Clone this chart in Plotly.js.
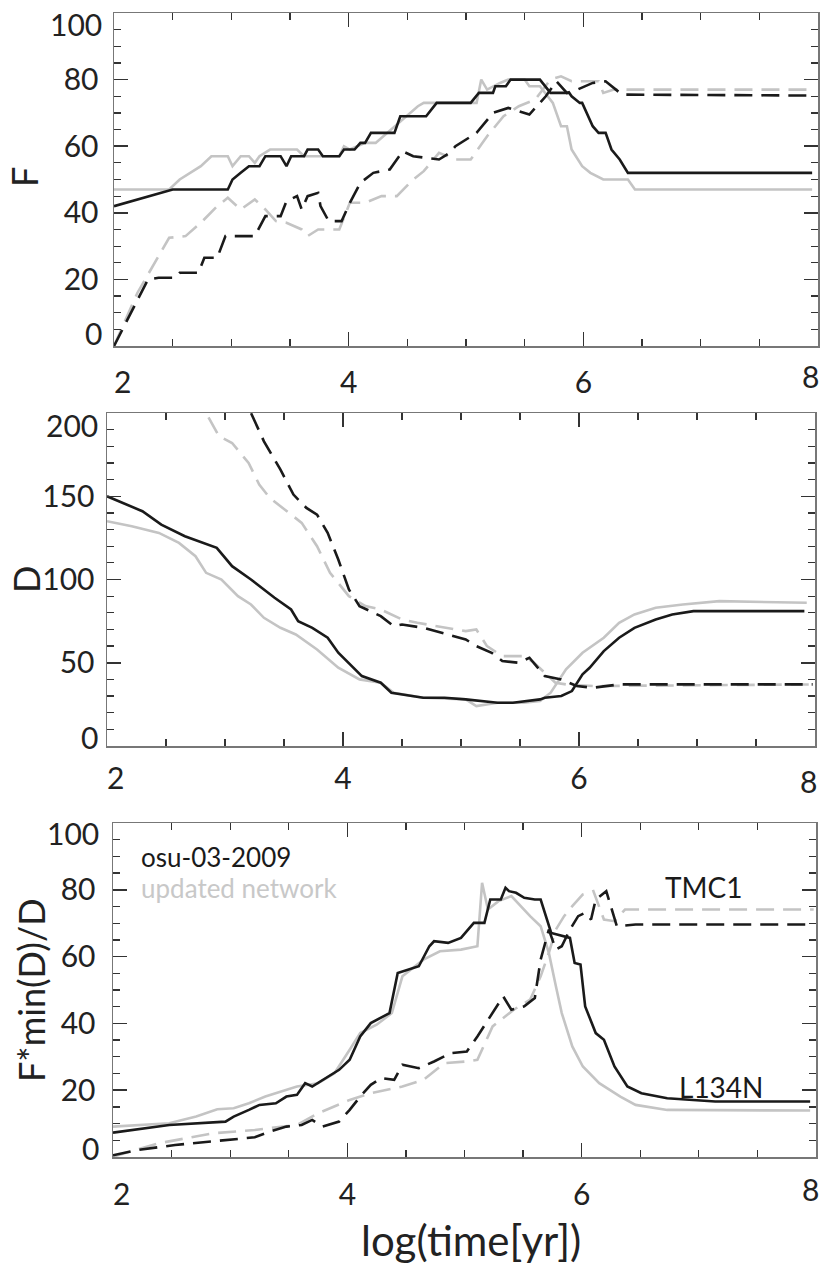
<!DOCTYPE html>
<html>
<head>
<meta charset="utf-8">
<script src="https://cdn.plot.ly/plotly-3.0.1.min.js"></script>
<style>
  body { margin: 0; background: #fff; }
  #chart { width: 830px; height: 1266px; }
</style>
</head>
<body>
<div id="chart"></div>
<script>
// ---- panel 1 : F ----
var fX_osuL134 = [2.00, 2.50, 2.97, 3.01, 3.08, 3.15, 3.24, 3.29, 3.42, 3.47, 3.51, 3.62, 3.65, 3.74, 3.78, 3.92, 3.96, 4.05, 4.10, 4.14, 4.19, 4.39, 4.44, 4.66, 4.75, 5.04, 5.11, 5.23, 5.25, 5.34, 5.38, 5.63, 5.72, 5.88, 5.90, 5.97, 5.99, 6.08, 6.13, 6.19, 6.24, 6.31, 6.38, 7.95];
var fY_osuL134 = [42, 47, 47, 50, 52, 54, 54, 57, 57, 54, 57, 57, 59, 59, 57, 57, 59, 59, 61, 61, 64, 64, 69, 69, 73, 73, 76, 76, 78, 78, 80, 80, 76, 76, 75, 73, 73, 66, 64, 64, 59, 56, 52, 52];
var fX_newL134 = [2.00, 2.47, 2.56, 2.74, 2.83, 2.97, 3.01, 3.08, 3.15, 3.20, 3.24, 3.33, 3.56, 3.62, 3.92, 3.96, 4.01, 4.14, 4.23, 4.39, 4.59, 4.64, 5.09, 5.13, 5.18, 5.29, 5.36, 5.50, 5.54, 5.63, 5.72, 5.74, 5.81, 5.86, 5.90, 5.99, 6.06, 6.17, 6.38, 6.44, 7.95];
var fY_newL134 = [47, 47, 50, 54, 57, 57, 54, 57, 57, 55, 57, 59, 59, 57, 57, 60, 59, 61, 61, 66, 72, 73, 73, 80, 77, 79, 80, 80, 78, 78, 74, 73, 66, 66, 59, 54, 52, 50, 50, 47, 47];
var fX_osuTMC = [2.00, 2.29, 2.38, 2.52, 2.56, 2.72, 2.77, 2.88, 2.95, 3.20, 3.29, 3.42, 3.47, 3.56, 3.60, 3.65, 3.74, 3.76, 3.83, 3.94, 4.01, 4.10, 4.21, 4.35, 4.46, 4.55, 4.77, 4.86, 4.91, 5.09, 5.23, 5.36, 5.54, 5.68, 5.77, 5.86, 5.95, 6.08, 6.19, 6.33, 7.95];
var fY_osuTMC = [0, 20, 20.5, 20.5, 22, 22, 26.5, 26.5, 33, 33, 39, 39, 43.5, 45, 41, 45, 46, 42, 37.5, 37.5, 43, 49, 52, 53, 58.5, 57, 56, 58, 60, 64, 70, 71.5, 69.5, 75, 79.5, 76, 77, 79, 79.5, 75.5, 75.2];
var fX_newTMC = [2.00, 2.20, 2.38, 2.47, 2.61, 2.74, 2.88, 2.97, 3.08, 3.20, 3.29, 3.38, 3.47, 3.60, 3.65, 3.74, 3.92, 4.01, 4.14, 4.28, 4.41, 4.55, 4.64, 4.77, 4.91, 5.04, 5.18, 5.32, 5.45, 5.59, 5.72, 5.81, 5.90, 6.13, 6.17, 6.26, 7.95];
var fY_newTMC = [0, 16, 27, 32.5, 33, 37, 42, 44.5, 41, 44, 41, 37.5, 37, 35, 33, 35, 35, 43, 43, 45, 45, 50, 52.5, 58, 56, 56, 63, 69, 72, 74, 80, 81, 79.5, 79.5, 76, 77, 77];

// ---- panel 2 : D ----
var dX_osuL134 = [2.00, 2.30, 2.46, 2.66, 2.93, 3.06, 3.22, 3.31, 3.42, 3.56, 3.62, 3.74, 3.87, 3.96, 4.07, 4.16, 4.32, 4.41, 4.68, 4.86, 5.04, 5.31, 5.44, 5.58, 5.67, 5.71, 5.85, 5.94, 6.03, 6.09, 6.21, 6.34, 6.47, 6.65, 6.79, 6.97, 7.19, 7.91];
var dY_osuL134 = [150, 141, 133, 126, 119, 108, 100, 95, 89, 82, 75, 71, 65, 56, 48, 42, 38, 32, 29, 29, 28, 26, 26, 27, 28, 29, 30, 33, 43, 47, 57, 65, 71, 76, 79, 81, 81, 81];
var dX_newL134 = [2.00, 2.21, 2.44, 2.61, 2.75, 2.84, 2.97, 3.11, 3.22, 3.33, 3.47, 3.60, 3.78, 3.96, 4.14, 4.32, 4.43, 4.68, 5.04, 5.13, 5.31, 5.53, 5.67, 5.76, 5.89, 6.03, 6.21, 6.34, 6.47, 6.65, 6.88, 7.19, 7.93];
var dY_newL134 = [135, 132, 128, 122, 114, 104, 100, 90, 85, 77, 71, 67, 58, 47, 40, 38, 32, 29, 28, 24, 26, 26, 27, 32, 46, 56, 65, 74, 79, 83, 85, 87, 86];
var dX_osuTMC = [3.11, 3.22, 3.33, 3.47, 3.58, 3.69, 3.78, 3.87, 3.96, 4.05, 4.14, 4.23, 4.32, 4.43, 4.50, 4.68, 4.90, 5.04, 5.13, 5.26, 5.35, 5.49, 5.58, 5.64, 5.71, 5.85, 5.98, 6.12, 6.21, 6.34, 7.98];
var dY_osuTMC = [214, 200, 183, 166, 151, 143, 139, 128, 112, 94, 84, 81, 78, 72, 73, 71, 67, 64, 60, 56, 51, 50, 53, 48, 42, 40, 36, 35, 36, 37, 37];
var dX_newTMC = [2.76, 2.84, 2.95, 3.06, 3.20, 3.29, 3.38, 3.51, 3.65, 3.78, 3.89, 4.05, 4.19, 4.32, 4.50, 4.63, 4.81, 5.04, 5.13, 5.22, 5.35, 5.53, 5.62, 5.71, 5.80, 5.89, 6.12, 7.98];
var dY_newTMC = [212, 200, 186, 182, 170, 157, 149, 142, 134, 120, 104, 90, 84, 82, 76, 74, 72, 69, 70, 60, 54, 54, 50, 44, 38, 37, 36, 37];

// ---- panel 3 : F*min(D)/D ----
var gX_osuL134 = [2.00, 2.48, 2.96, 3.03, 3.16, 3.25, 3.39, 3.48, 3.57, 3.64, 3.70, 3.79, 3.93, 4.02, 4.11, 4.20, 4.36, 4.43, 4.52, 4.61, 4.70, 4.74, 4.86, 4.97, 5.08, 5.17, 5.22, 5.31, 5.35, 5.38, 5.44, 5.51, 5.60, 5.65, 5.74, 5.90, 5.94, 5.99, 6.03, 6.12, 6.19, 6.28, 6.39, 6.51, 6.73, 7.14, 7.95];
var gY_osuL134 = [7.3, 9.6, 10.6, 12.1, 14.1, 15.6, 16.1, 18.1, 18.6, 22.1, 21.1, 23.1, 26.1, 29.1, 36.1, 40.1, 43.1, 55.1, 56.1, 57.1, 63.1, 64.6, 64.1, 65.6, 70.1, 70.1, 77.1, 77.1, 80.6, 79.6, 79.1, 77.6, 77.1, 77.1, 67.1, 65.6, 58.1, 57.6, 45.1, 37.1, 35.1, 27.1, 21.1, 19.1, 17.6, 16.6, 16.6];
var gX_newL134 = [2.00, 2.48, 2.71, 2.89, 3.03, 3.16, 3.30, 3.43, 3.57, 3.75, 3.89, 4.02, 4.11, 4.25, 4.38, 4.47, 4.65, 4.79, 4.97, 5.11, 5.15, 5.20, 5.29, 5.40, 5.56, 5.65, 5.72, 5.78, 5.83, 5.92, 6.01, 6.15, 6.33, 6.46, 6.73, 7.95];
var gY_newL134 = [9.1, 10.1, 12.1, 14.3, 14.6, 16.1, 18.1, 19.6, 21.1, 22.1, 25.1, 32.1, 37.1, 39.6, 43.1, 54.1, 59.1, 61.6, 62.1, 63.1, 82.1, 74.1, 76.6, 78.1, 72.1, 69.1, 61.1, 51.1, 43.1, 33.1, 27.1, 22.1, 18.1, 15.6, 14.1, 13.9];
var gX_osuTMC = [2.00, 2.21, 2.53, 2.94, 3.21, 3.34, 3.48, 3.61, 3.70, 3.79, 3.93, 4.02, 4.11, 4.20, 4.29, 4.40, 4.47, 4.61, 4.74, 4.88, 5.02, 5.11, 5.24, 5.33, 5.40, 5.51, 5.60, 5.65, 5.72, 5.78, 5.83, 5.90, 5.97, 6.03, 6.08, 6.12, 6.21, 6.30, 6.46, 7.98];
var gY_osuTMC = [0.5, 2.1, 3.6, 5.1, 5.9, 7.6, 9.1, 9.6, 11.1, 9.1, 10.6, 14.1, 18.1, 21.6, 23.6, 23.1, 27.6, 26.6, 28.6, 31.1, 31.6, 36.1, 43.1, 48.1, 44.1, 45.1, 47.6, 59.1, 68.1, 62.1, 63.1, 68.1, 72.1, 73.1, 71.1, 77.1, 79.6, 69.1, 69.6, 69.6];
var gX_newTMC = [2.00, 2.39, 2.85, 3.21, 3.57, 3.75, 4.02, 4.20, 4.47, 4.65, 4.83, 5.02, 5.11, 5.24, 5.42, 5.56, 5.65, 5.72, 5.78, 5.85, 5.92, 6.01, 6.10, 6.19, 6.28, 6.37, 7.98];
var gY_newTMC = [0.1, 4.1, 7.1, 8.1, 9.6, 13.1, 17.1, 19.1, 21.1, 23.1, 28.1, 28.6, 29.1, 39.1, 44.1, 47.1, 54.1, 61.1, 68.1, 72.1, 75.1, 78.6, 79.6, 71.1, 70.6, 74.1, 74.1];

// ---- axes / labels ----
var xTicks = [2, 4, 6, 8];
var yTicksF = [0, 20, 40, 60, 80, 100];
var yTicksD = [0, 50, 100, 150, 200];
var panelTitles = ['F', 'D', 'F*min(D)/D'];
var xTitle = 'log(time[yr])';
var legendText = ['osu-03-2009', 'updated network'];
var sourceText = ['TMC1', 'L134N'];

var FONT = 'Lato, "Open Sans", sans-serif';
var BLACK = '#1a1a1a';
var GREY = '#c4c4c4';
var DASH = '18px,9px';
var W = 830, H = 1266;
var FSP = '\u2007'; // figure space, nudges the first x label inward

function line(x, y, ax, color, dashed) {
  return {
    x: x, y: y, xaxis: 'x' + ax, yaxis: 'y' + ax,
    type: 'scatter', mode: 'lines', showlegend: false, hoverinfo: 'skip',
    line: {color: color, width: 2.6, dash: dashed ? DASH : 'solid'}
  };
}

// first x label pushed inside the box, last one drawn as an annotation
function xText(vals) {
  return vals.map(function (v, i) {
    if (i === 0) return FSP + v;
    if (i === vals.length - 1) return ' ';
    return String(v);
  });
}

// y end labels drawn as annotations (shifted inward)
function yText(vals) {
  return vals.map(function (v, i) { return (i === 0 || i === vals.length - 1) ? ' ' : String(v); });
}

function xAxis(domain, anchor, standoff) {
  return {
    domain: domain, anchor: anchor, range: [2, 8],
    tickmode: 'array', tickvals: xTicks, ticktext: xText(xTicks),
    ticks: 'inside', ticklen: 14, tickwidth: 1.5, tickcolor: '#333',
    minor: {tick0: 2, dtick: 0.5, ticks: 'inside', ticklen: 7, tickwidth: 1.2, tickcolor: '#333'},
    showline: true, linecolor: '#777', linewidth: 1.5, mirror: 'allticks',
    showgrid: false, zeroline: false, ticklabelstandoff: standoff,
    tickfont: {family: FONT, size: 30, color: '#222'}
  };
}

function yAxis(domain, anchor, ticks, minorStep, standoff) {
  return {
    domain: domain, anchor: anchor, range: [ticks[0], ticks[ticks.length - 1]],
    tickmode: 'array', tickvals: ticks, ticktext: yText(ticks),
    ticks: 'inside', ticklen: 14, tickwidth: 1.5, tickcolor: '#333',
    minor: {tick0: 0, dtick: minorStep, ticks: 'inside', ticklen: 7, tickwidth: 1.2, tickcolor: '#333'},
    showline: true, linecolor: '#777', linewidth: 1.5, mirror: 'allticks',
    showgrid: false, zeroline: false, ticklabelstandoff: standoff,
    tickfont: {family: FONT, size: 30, color: '#222'}
  };
}

var data = [
  line(fX_newL134, fY_newL134, '', GREY, false),
  line(fX_newTMC, fY_newTMC, '', GREY, true),
  line(fX_osuTMC, fY_osuTMC, '', BLACK, true),
  line(fX_osuL134, fY_osuL134, '', BLACK, false),
  line(dX_newL134, dY_newL134, '2', GREY, false),
  line(dX_newTMC, dY_newTMC, '2', GREY, true),
  line(dX_osuTMC, dY_osuTMC, '2', BLACK, true),
  line(dX_osuL134, dY_osuL134, '2', BLACK, false),
  line(gX_newL134, gY_newL134, '3', GREY, false),
  line(gX_newTMC, gY_newTMC, '3', GREY, true),
  line(gX_osuTMC, gY_osuTMC, '3', BLACK, true),
  line(gX_osuL134, gY_osuL134, '3', BLACK, false)
];

function px(x) { return x / W; }
function py(y) { return 1 - y / H; }

// end labels: [yRightEdge, yTopCenter, yBottomCenter, xLabelCenterY, lastXCenter] in pixels
function endLabels(yt, pos) {
  var f = {family: FONT, size: 30, color: '#222'};
  return [
    {xref: 'paper', yref: 'paper', x: px(pos[0]), y: py(pos[1]), text: String(yt[yt.length - 1]), showarrow: false, xanchor: 'right', yanchor: 'middle', font: f},
    {xref: 'paper', yref: 'paper', x: px(pos[0]), y: py(pos[2]), text: String(yt[0]), showarrow: false, xanchor: 'right', yanchor: 'middle', font: f},
    {xref: 'paper', yref: 'paper', x: px(pos[4]), y: py(pos[3]), text: String(xTicks[xTicks.length - 1]), showarrow: false, xanchor: 'center', yanchor: 'middle', font: f}
  ];
}

var titleFont = {family: FONT, size: 36, color: '#222'};
var annotations = [].concat(
  endLabels(yTicksF, [104, 24, 333, 376, 810]),
  endLabels(yTicksD, [100, 425, 737, 781, 808]),
  endLabels(yTicksF, [101, 833, 1148, 1189, 810]),
  [
    {xref: 'paper', yref: 'paper', x: 0, y: py(177), text: panelTitles[0], textangle: -90, showarrow: false, xanchor: 'left', yanchor: 'middle', font: titleFont},
    {xref: 'paper', yref: 'paper', x: px(2), y: py(580), text: panelTitles[1], textangle: -90, showarrow: false, xanchor: 'left', yanchor: 'middle', font: titleFont},
    {xref: 'paper', yref: 'paper', x: px(31), y: py(990), text: panelTitles[2], textangle: -90, showarrow: false, xanchor: 'center', yanchor: 'middle', font: titleFont},
    {xref: 'paper', yref: 'paper', x: px(471), y: py(1240), text: xTitle, showarrow: false, xanchor: 'center', yanchor: 'middle', font: {family: FONT, size: 42, color: '#222'}},
    {xref: 'paper', yref: 'paper', x: px(139), y: py(857), text: legendText[0], showarrow: false, xanchor: 'left', yanchor: 'middle', font: {family: FONT, size: 26, color: BLACK}},
    {xref: 'paper', yref: 'paper', x: px(139), y: py(888), text: legendText[1], showarrow: false, xanchor: 'left', yanchor: 'middle', font: {family: FONT, size: 26, color: '#c8c8c8'}},
    {xref: 'paper', yref: 'paper', x: px(703), y: py(887), text: sourceText[0], showarrow: false, xanchor: 'center', yanchor: 'middle', font: {family: FONT, size: 28, color: BLACK}},
    {xref: 'paper', yref: 'paper', x: px(721), y: py(1087), text: sourceText[1], showarrow: false, xanchor: 'center', yanchor: 'middle', font: {family: FONT, size: 28, color: BLACK}}
  ]
);

var layout = {
  width: W,
  height: H,
  margin: {l: 0, r: 0, t: 0, b: 0},
  paper_bgcolor: '#fff',
  plot_bgcolor: '#fff',
  showlegend: false,
  xaxis: xAxis([px(114), px(818)], 'y', 9),
  yaxis: yAxis([py(346), py(13)], 'x', yTicksF, 5, 8),
  xaxis2: xAxis([px(107), px(815)], 'y2', 5),
  yaxis2: yAxis([py(746), py(413)], 'x2', yTicksD, 10, 5),
  xaxis3: xAxis([px(113), px(816)], 'y3', 10),
  yaxis3: yAxis([py(1157), py(823)], 'x3', yTicksF, 5, 10),
  annotations: annotations
};

Plotly.newPlot('chart', data, layout, {staticPlot: true});
</script>
</body>
</html>
